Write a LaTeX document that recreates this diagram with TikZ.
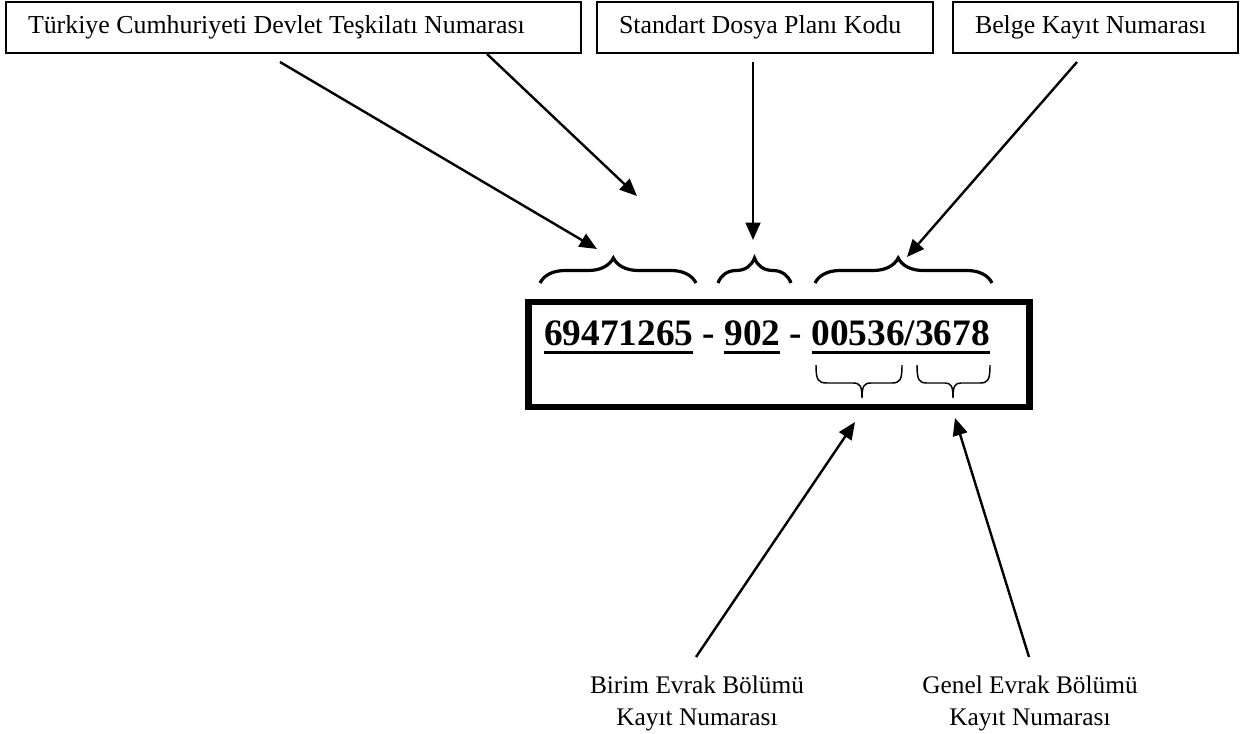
\documentclass[tikz,border=0pt]{standalone}
\usepackage{fontspec}
\setmainfont{Liberation Serif}
\usetikzlibrary{arrows.meta,decorations.pathreplacing}
\newcommand{\ulx}[1]{\vtop{\hbox{#1}\kern3.6pt\hrule height 2.1pt}}
\begin{document}
\begin{tikzpicture}[x=0.75pt,y=-0.75pt,
  lbl/.style={draw,line width=1.1pt,inner xsep=16.5pt,inner ysep=0pt,minimum height=38.25pt,align=flush left,font=\fontsize{19.4}{23.4}\selectfont},
  lowlbl/.style={inner sep=0pt,align=center,anchor=north,font=\fontsize{19}{24}\selectfont},
  arr/.style={line width=1.8pt,-{Triangle[length=13pt,width=11pt]}},
  bigbrace/.style={decorate,line width=2.4pt,decoration={brace,amplitude=18.75pt,aspect=#1}},
  thinbrace/.style={line width=1.1pt}]
\useasboundingbox (0,0) rectangle (1243,734);
% top boxes
\node[lbl,text width=398.25pt] (tc) at (293.5,27.5) {Türkiye Cumhuriyeti Devlet Teşkilatı Numarası};
\node[lbl,text width=219pt] (sd) at (765,27.5) {Standart Dosya Planı Kodu};
\node[lbl,text width=180.75pt] (bk) at (1095.5,27.5) {Belge Kayıt Numarası};
% main box
\node[draw,line width=5pt,minimum width=375.75pt,minimum height=78.75pt,inner sep=0pt] (mb) at (779,354.5) {};
\node[inner sep=0pt,anchor=base,font=\fontsize{28}{33}\bfseries] (num) at (767,346)
  {\ulx{69471265} - \ulx{902} - \ulx{00536/3678}};
% top braces
\draw[bigbrace=0.47] (540,283) -- (696,283);
\draw[bigbrace=0.5] (718,283) -- (791,283);
\draw[bigbrace=0.47] (815,283) -- (992,283);
% lower braces
\draw[thinbrace] (816,365) .. controls (816,380) and (818,383) .. (827,383) -- (853,383)
  .. controls (860,383) and (862,386) .. (862,398)
  .. controls (862,386) and (864,383) .. (871,383) -- (892,383)
  .. controls (900,383) and (902,380) .. (902,365);
\draw[thinbrace] (917,365) .. controls (917,380) and (919,383) .. (927,383) -- (945,383)
  .. controls (951,383) and (953,386) .. (953,398)
  .. controls (953,386) and (955,383) .. (961,383) -- (980,383)
  .. controls (988,383) and (990,380) .. (990,365);
% bottom labels
\node[lowlbl] (be) at (697,676) {Birim Evrak Bölümü\\Kayıt Numarası};
\node[lowlbl] (ge) at (1030,676) {Genel Evrak Bölümü\\Kayıt Numarası};
% arrow endpoints
\coordinate (a1s) at (280,62);
\coordinate (a1e) at (597,249);
\coordinate (a2s) at (487,54);
\coordinate (a2e) at (637,196);
\coordinate (a3s) at (753,62);
\coordinate (a3e) at (753,240);
\coordinate (a4s) at (1077,62);
\coordinate (a4e) at (907,257);
\coordinate (b1s) at (696,657);
\coordinate (b1e) at (855,422);
\coordinate (b2s) at (1029,657);
\coordinate (b2e) at (955,418);
\draw[arr] (a1s) -- (a1e);
\draw[arr] (a2s) -- (a2e);
\draw[arr] (a3s) -- (a3e);
\draw[arr] (a4s) -- (a4e);
\draw[arr] (b1s) -- (b1e);
\draw[arr] (b2s) -- (b2e);
\end{tikzpicture}
\end{document}
